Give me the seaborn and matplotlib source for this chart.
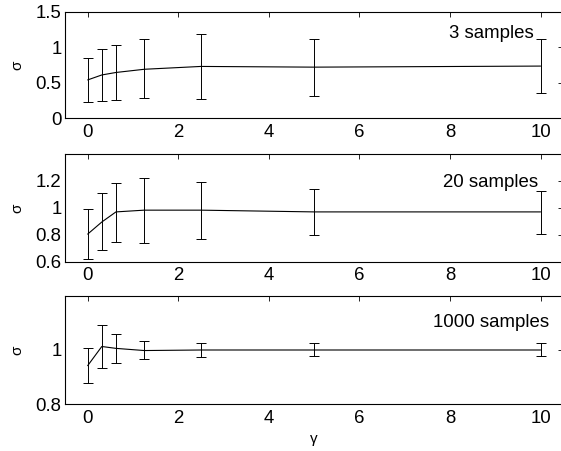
import matplotlib

matplotlib.use("Agg")
import matplotlib.pyplot as plt
import numpy as np
import pandas as pd
import seaborn as sns

# gamma values shared by all three panels
GAMMA = [0, 0.3125, 0.625, 1.25, 2.5, 5, 10]

# mean sigma and error-bar lower / upper ends
MEAN_3 = [0.54, 0.61, 0.645, 0.69, 0.73, 0.72, 0.735]
LOW_3 = [0.23, 0.25, 0.26, 0.28, 0.27, 0.32, 0.35]
HIGH_3 = [0.85, 0.98, 1.035, 1.11, 1.185, 1.11, 1.12]

MEAN_20 = [0.805, 0.895, 0.97, 0.983, 0.983, 0.97, 0.97]
LOW_20 = [0.62, 0.689, 0.744, 0.741, 0.77, 0.798, 0.803]
HIGH_20 = [0.988, 1.109, 1.188, 1.22, 1.19, 1.139, 1.124]

MEAN_1000 = [0.942, 1.013, 1.006, 0.998, 1.0, 1.0, 1.0]
LOW_1000 = [0.876, 0.934, 0.951, 0.966, 0.975, 0.979, 0.977]
HIGH_1000 = [1.006, 1.093, 1.06, 1.033, 1.027, 1.025, 1.025]

LABELS = ["3 samples", "20 samples", "1000 samples"]
YLIMS = [(0, 1.5), (0.6, 1.4), (0.8, 1.2)]
YTICKS = [[0, 0.5, 1, 1.5], [0.6, 0.8, 1, 1.2], [0.8, 1]]
YTICKLABELS = [["0", "0.5", "1", "1.5"], ["0.6", "0.8", "1", "1.2"], ["0.8", "1"]]
XTICKS = [0, 2, 4, 6, 8, 10]

_INK = "#000000"
_FS = 13.4
_FS_GREEK = 11

sns.set_style("white")
plt.rcParams["font.family"] = ["Liberation Sans", "DejaVu Sans"]

fig = plt.figure(figsize=(5.61, 4.51), dpi=100)
fig.set_facecolor("white")

# axes boxes in figure fractions; right edge runs just past the figure like the source
positions = [
    [0.1159, 0.7377, 0.888, 0.2363],
    [0.1159, 0.4197, 0.888, 0.2388],
    [0.1159, 0.1042, 0.888, 0.2395],
]
text_pos = [(7.98, 1.20), (7.85, 1.185), (7.63, 1.10)]

series = [
    (MEAN_3, LOW_3, HIGH_3),
    (MEAN_20, LOW_20, HIGH_20),
    (MEAN_1000, LOW_1000, HIGH_1000),
]

for i, (mean, low, high) in enumerate(series):
    ax = fig.add_axes(positions[i])
    df = pd.DataFrame({"gamma": GAMMA, "sigma": mean})
    sns.lineplot(data=df, x="gamma", y="sigma", color=_INK, linewidth=0.8, ax=ax)
    m = np.array(mean)
    yerr = [m - np.array(low), np.array(high) - m]
    ax.errorbar(GAMMA, mean, yerr=yerr, fmt="none", ecolor=_INK, elinewidth=0.7,
                capsize=3.6, capthick=0.7)
    ax.set_xlim(-0.5, 10.5)
    ax.set_ylim(*YLIMS[i])
    ax.set_xticks(XTICKS)
    ax.set_xticklabels([str(t) for t in XTICKS])
    ax.set_yticks(YTICKS[i])
    ax.set_yticklabels(YTICKLABELS[i])
    ax.tick_params(direction="in", top=True, right=True, length=3.5, width=0.6,
                   labelsize=_FS, colors=_INK)
    ax.tick_params(axis="x", pad=4)
    ax.tick_params(axis="y", pad=2.5)
    for side in ax.spines.values():
        side.set_visible(True)
        side.set_color(_INK)
        side.set_linewidth(0.8)
    ax.set_ylabel("σ", fontsize=_FS_GREEK, color=_INK)
    ax.yaxis.set_label_coords(-0.082, 0.5)
    ax.set_xlabel("")
    ax.text(text_pos[i][0], text_pos[i][1], LABELS[i], fontsize=_FS, color=_INK,
            ha="left", va="center")
    if i == 2:
        ax.set_xlabel("γ", fontsize=_FS_GREEK, color=_INK, labelpad=4)

fig.savefig("out.png", dpi=100, facecolor=fig.get_facecolor())
plt.close(fig)
